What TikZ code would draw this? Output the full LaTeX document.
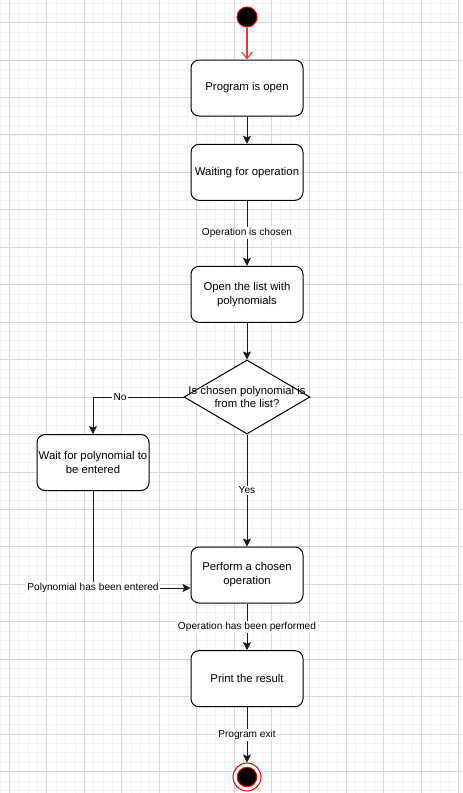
\documentclass[tikz,border=0pt]{standalone}
\usepackage{fontspec}
\setmainfont{Liberation Sans}
\usetikzlibrary{shapes.geometric,arrows.meta}
\definecolor{minorgrid}{HTML}{F3F3F3}
\definecolor{majorgrid}{HTML}{D8D8D8}
\definecolor{startred}{HTML}{E83C3C}
\definecolor{circred}{HTML}{E00000}
\begin{document}
\begin{tikzpicture}[x=0.75pt,y=-0.75pt,
  box/.style={draw=black, rounded corners=6pt, minimum width=84pt, minimum height=42pt,
    align=center, font=\fontsize{8.5pt}{10.5pt}\selectfont, fill=white, inner sep=0pt, line width=0.75pt},
  dec/.style={diamond, draw=black, fill=white, minimum width=94.5pt, minimum height=55.5pt,
    inner sep=0pt, line width=0.75pt},
  startc/.style={circle, fill=black, draw=circred, minimum size=15pt, inner sep=0pt, line width=0.75pt},
  endc/.style={circle, fill=white, draw=circred, minimum size=21pt, inner sep=0pt, line width=0.75pt,
    path picture={\filldraw[fill=black, draw=circred, line width=0.75pt] (path picture bounding box.center) circle (7.3pt);}},
  flow/.style={draw=black!90, line width=0.75pt, -{Stealth[length=6pt, width=6pt, inset=1.2pt]}},
  redflow/.style={draw=startred, line width=0.85pt, -{Straight Barb[length=5pt, width=8pt]}},
  lbl/.style={fill=white, inner sep=1pt, font=\fontsize{7.6pt}{9pt}\selectfont, text=black}
]
\useasboundingbox (0,0) rectangle (462,793);
\begin{scope}
\clip (0,0) rectangle (462,793);
\fill[white] (0,0) rectangle (462,793);
\foreach \k in {0,...,49} \draw[minorgrid, line width=0.5pt] ({-0.06+9.3625*\k},0) -- ++(0,793);
\foreach \k in {0,...,84} \draw[minorgrid, line width=0.5pt] (0,{3.77+9.3625*\k}) -- ++(462,0);
\foreach \k in {0,...,12} \draw[majorgrid, line width=0.6pt] ({9.3+37.45*\k},0) -- ++(0,793);
\foreach \k in {0,...,20} \draw[majorgrid, line width=0.6pt] (0,{22.5+37.45*\k}) -- ++(462,0);
\end{scope}

\node[startc] (s) at (247,17) {};
\node[box] (b1) at (247,88) {Program is open};
\node[box] (b2) at (247,172.3) {Waiting for operation};
\node[box] (b3) at (247,294.3) {Open the list with\\polynomials};
\node[dec, label={[align=center, font=\fontsize{8.5pt}{9.5pt}\selectfont]center:Is chosen polynomial is\\from the list?}] (d) at (247,397) {};
\node[box] (w) at (93,462.5) {Wait for polynomial to\\be entered};
\node[box] (b5) at (247,575) {Perform a chosen\\operation};
\node[box] (b6) at (247,678.7) {Print the result};
\node[endc] (e) at (247,777) {};

\draw[redflow] (s.south) -- (b1.north);
\draw[flow] (b1) -- (b2);
\draw[flow] (b2) -- node[lbl]{Operation is chosen} (b3);
\draw[flow] (b3) -- (d);
\draw[flow] (d.west) -| node[lbl, pos=0.35]{No} (w.north);
\draw[flow] (d) -- node[lbl]{Yes} (b5);
\draw[flow] (w) |- node[lbl, pos=0.5]{Polynomial has been entered} ([yshift=-9.75pt]b5.west);
\draw[flow] (b5) -- node[lbl]{Operation has been performed} (b6);
\draw[flow] (b6) -- node[lbl]{Program exit} (e);
\end{tikzpicture}
\end{document}
